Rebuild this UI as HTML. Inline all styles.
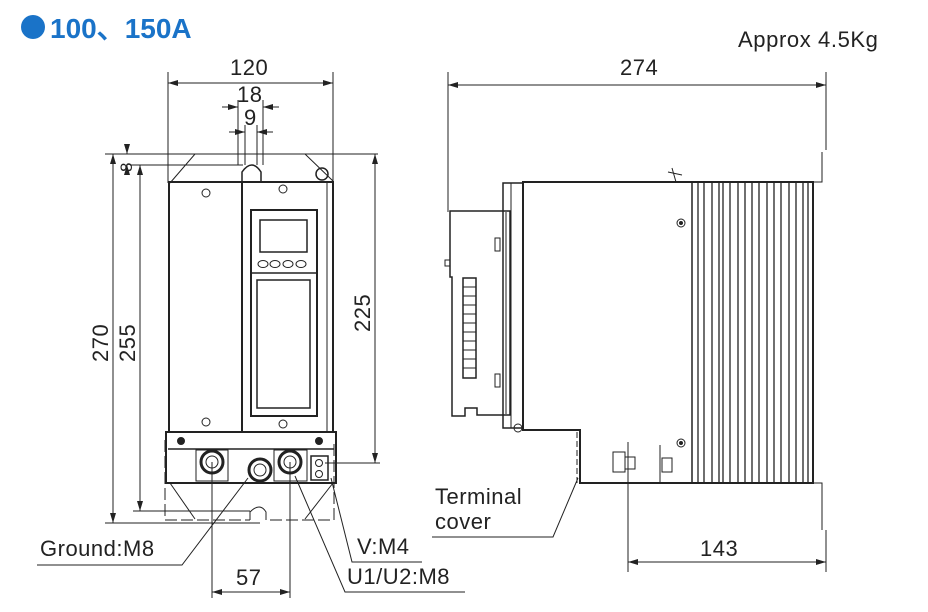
<!DOCTYPE html>
<html><head><meta charset="utf-8"><style>
body{margin:0;background:#fff}
svg{display:block}
text{font-family:"Liberation Sans",Arial,sans-serif;fill:#222}
</style></head><body>
<svg width="928" height="612" viewBox="0 0 928 612" xmlns="http://www.w3.org/2000/svg">
<defs>
<marker id="a" viewBox="0 0 10 6" refX="10" refY="3" markerWidth="10" markerHeight="6" orient="auto-start-reverse" markerUnits="userSpaceOnUse"><path d="M0,0L10,3L0,6z" fill="#222"/></marker>
</defs>
<circle cx="33" cy="27" r="12" fill="#1a73c8"/>
<text x="50" y="38" font-size="28" font-weight="bold" style="fill:#1a73c8">100、150A</text>
<text x="738" y="47" font-size="22" letter-spacing="0.6">Approx 4.5Kg</text>

<g stroke="#222" stroke-width="1" fill="none">
<line x1="168" y1="72" x2="168" y2="183"/><line x1="333" y1="72" x2="333" y2="183"/>
<line x1="168" y1="83" x2="333" y2="83" marker-start="url(#a)" marker-end="url(#a)"/>
<line x1="238" y1="100" x2="238" y2="165"/><line x1="263" y1="100" x2="263" y2="165"/>
<line x1="222" y1="107" x2="238" y2="107" marker-end="url(#a)"/><line x1="279" y1="107" x2="263" y2="107" marker-end="url(#a)"/>
<line x1="245" y1="125" x2="245" y2="165"/><line x1="257" y1="125" x2="257" y2="165"/>
<line x1="229" y1="132" x2="245" y2="132" marker-end="url(#a)"/><line x1="273" y1="132" x2="257" y2="132" marker-end="url(#a)"/>
<line x1="105" y1="154" x2="378" y2="154"/><line x1="130" y1="165" x2="243" y2="165"/>
<line x1="113" y1="154" x2="113" y2="523" marker-start="url(#a)" marker-end="url(#a)"/>
<line x1="140" y1="165" x2="140" y2="511" marker-start="url(#a)" marker-end="url(#a)"/>
<line x1="127" y1="145" x2="127" y2="154" marker-end="url(#a)"/><line x1="127" y1="175" x2="127" y2="165" marker-end="url(#a)"/>
<line x1="105" y1="523" x2="260" y2="523"/><line x1="133" y1="511" x2="250" y2="511"/>
<line x1="375" y1="154" x2="375" y2="463" marker-start="url(#a)" marker-end="url(#a)"/>
<line x1="325" y1="463" x2="380" y2="463"/>
<path d="M170,183 L195,154 L305,154 L333,181"/>
<path d="M242,183 L242,172 Q252,158 261,172 L261,183" stroke-width="1.5"/>
<rect x="169" y="182" width="164" height="250" stroke-width="2"/>
<line x1="242" y1="183" x2="242" y2="432" stroke-width="2"/>
<line x1="327" y1="183" x2="327" y2="432"/>
<rect x="251" y="210" width="66" height="206" stroke-width="2"/>
<rect x="260" y="220" width="47" height="32" stroke-width="1.5"/>
<line x1="251" y1="273" x2="317" y2="273" stroke-width="1.5"/>
<rect x="257" y="280" width="53" height="128" stroke-width="1.5"/>
<ellipse cx="263" cy="264" rx="5" ry="3.5"/><ellipse cx="275" cy="264" rx="5" ry="3.5"/><ellipse cx="288" cy="264" rx="5" ry="3.5"/><ellipse cx="301" cy="264" rx="5" ry="3.5"/>
<circle cx="206" cy="193" r="4"/><circle cx="283" cy="189" r="4"/><circle cx="206" cy="422" r="4"/><circle cx="283" cy="424" r="4"/>
<circle cx="322" cy="174" r="6" stroke-width="1.5"/>
<rect x="166" y="432" width="170" height="51" stroke-width="2"/>
<line x1="168" y1="449" x2="334" y2="449" stroke-width="1.5"/>
<circle cx="181" cy="441" r="3.5" fill="#222"/><circle cx="319" cy="441" r="3.5" fill="#222"/>
<rect x="196" y="450" width="32" height="31"/><rect x="274" y="450" width="33" height="31"/>
<circle cx="212" cy="462" r="11" stroke-width="3"/><circle cx="212" cy="462" r="6"/>
<circle cx="260" cy="470" r="11" stroke-width="3"/><circle cx="260" cy="470" r="6"/>
<circle cx="290" cy="462" r="11" stroke-width="3"/><circle cx="290" cy="462" r="6"/>
<rect x="311" y="456" width="17" height="24" stroke-width="1.5"/>
<circle cx="319" cy="463" r="3.5"/><circle cx="319" cy="474" r="3.5"/>
<path d="M170,483 L195,519 M333,483 L305,519" />
<path d="M165,440 L165,520 L250,520 M270,520 L334,520 L334,440" stroke-dasharray="12,4"/>
<path d="M250,520 L250,512 Q260,502 266,512 L266,520"/>
<line x1="212" y1="462" x2="212" y2="598"/><line x1="290" y1="462" x2="290" y2="598"/>
<line x1="212" y1="592" x2="290" y2="592" marker-start="url(#a)" marker-end="url(#a)"/>
<path d="M37,565 L182,565 L248,478"/>
<path d="M331,478 L352,562 L422,562"/>
<path d="M295,476 L345,592 L465,592"/>
<path d="M335,463 L362,463"/>
<line x1="448" y1="72" x2="448" y2="212"/><line x1="826" y1="72" x2="826" y2="150"/>
<line x1="448" y1="85" x2="826" y2="85" marker-start="url(#a)" marker-end="url(#a)"/>
<path d="M822,152 L822,182 L813,182"/><path d="M822,530 L822,483 L813,483"/>
<path d="M523,182 L813,182 L813,483 L580,483 L580,430 L523,430 Z" stroke-width="2"/>
<line x1="692" y1="182" x2="692" y2="483" stroke-width="1.5"/>
<g stroke-width="1.3">
<line x1="698" y1="183" x2="698" y2="483"/><line x1="704" y1="183" x2="704" y2="483"/><line x1="712" y1="183" x2="712" y2="483"/><line x1="719" y1="183" x2="719" y2="483"/><line x1="723" y1="183" x2="723" y2="483"/><line x1="730" y1="183" x2="730" y2="483"/><line x1="738" y1="183" x2="738" y2="483"/><line x1="745" y1="183" x2="745" y2="483"/><line x1="752" y1="183" x2="752" y2="483"/><line x1="759" y1="183" x2="759" y2="483"/><line x1="767" y1="183" x2="767" y2="483"/><line x1="774" y1="183" x2="774" y2="483"/><line x1="781" y1="183" x2="781" y2="483"/><line x1="789" y1="183" x2="789" y2="483"/><line x1="796" y1="183" x2="796" y2="483"/><line x1="803" y1="183" x2="803" y2="483"/><line x1="808" y1="183" x2="808" y2="483"/>
</g>
<rect x="503" y="183" width="20" height="245" stroke-width="1.5"/>
<line x1="511" y1="183" x2="511" y2="428"/>
<circle cx="518" cy="428" r="4"/>
<path d="M450,211 L510,211 L510,415 L477,415 L477,408 L465,408 L465,416 L452,416 L452,277 L450,277 Z" stroke-width="1.5"/>
<line x1="506" y1="212" x2="506" y2="414"/>
<rect x="463" y="278" width="13" height="100" stroke-width="1.5"/>
<line x1="463" y1="287" x2="476" y2="287"/><line x1="463" y1="296" x2="476" y2="296"/><line x1="463" y1="305" x2="476" y2="305"/><line x1="463" y1="314" x2="476" y2="314"/><line x1="463" y1="323" x2="476" y2="323"/><line x1="463" y1="332" x2="476" y2="332"/><line x1="463" y1="341" x2="476" y2="341"/><line x1="463" y1="350" x2="476" y2="350"/><line x1="463" y1="359" x2="476" y2="359"/><line x1="463" y1="368" x2="476" y2="368"/>
<rect x="495" y="238" width="5" height="13"/><rect x="495" y="374" width="5" height="13"/>
<rect x="445" y="260" width="5" height="6"/>
<circle cx="681" cy="223" r="4"/><circle cx="681" cy="223" r="1.5" fill="#222"/>
<circle cx="681" cy="443" r="4"/><circle cx="681" cy="443" r="1.5" fill="#222"/>
<path d="M672,168 L676,182 M668,172 L682,175"/>
<rect x="613" y="452" width="12" height="20"/><rect x="625" y="457" width="10" height="12"/>
<line x1="628" y1="442" x2="628" y2="572"/><line x1="826" y1="530" x2="826" y2="572"/>
<line x1="628" y1="562" x2="826" y2="562" marker-start="url(#a)" marker-end="url(#a)"/>
<line x1="660" y1="445" x2="660" y2="482"/><rect x="662" y="458" width="10" height="14"/>
<line x1="577" y1="432" x2="577" y2="483" stroke-dasharray="6,3"/>
<path d="M432,537 L553,537 L578,478"/>
</g>
<g font-size="22" letter-spacing="0.5">
<text x="230" y="75">120</text>
<text x="237" y="102">18</text>
<text x="244" y="125">9</text>
<text x="620" y="75">274</text>
<text x="700" y="556">143</text>
<text x="236" y="585">57</text>
<text x="40" y="556">Ground:M8</text>
<text x="357" y="554">V:M4</text>
<text x="347" y="584">U1/U2:M8</text>
<text x="435" y="504">Terminal</text>
<text x="435" y="529">cover</text>
<text transform="translate(108,362) rotate(-90)">270</text>
<text transform="translate(135,362) rotate(-90)">255</text>
<text transform="translate(132,172) rotate(-90)" font-size="17">8</text>
<text transform="translate(370,332) rotate(-90)">225</text>
</g>
</svg>
</body></html>
